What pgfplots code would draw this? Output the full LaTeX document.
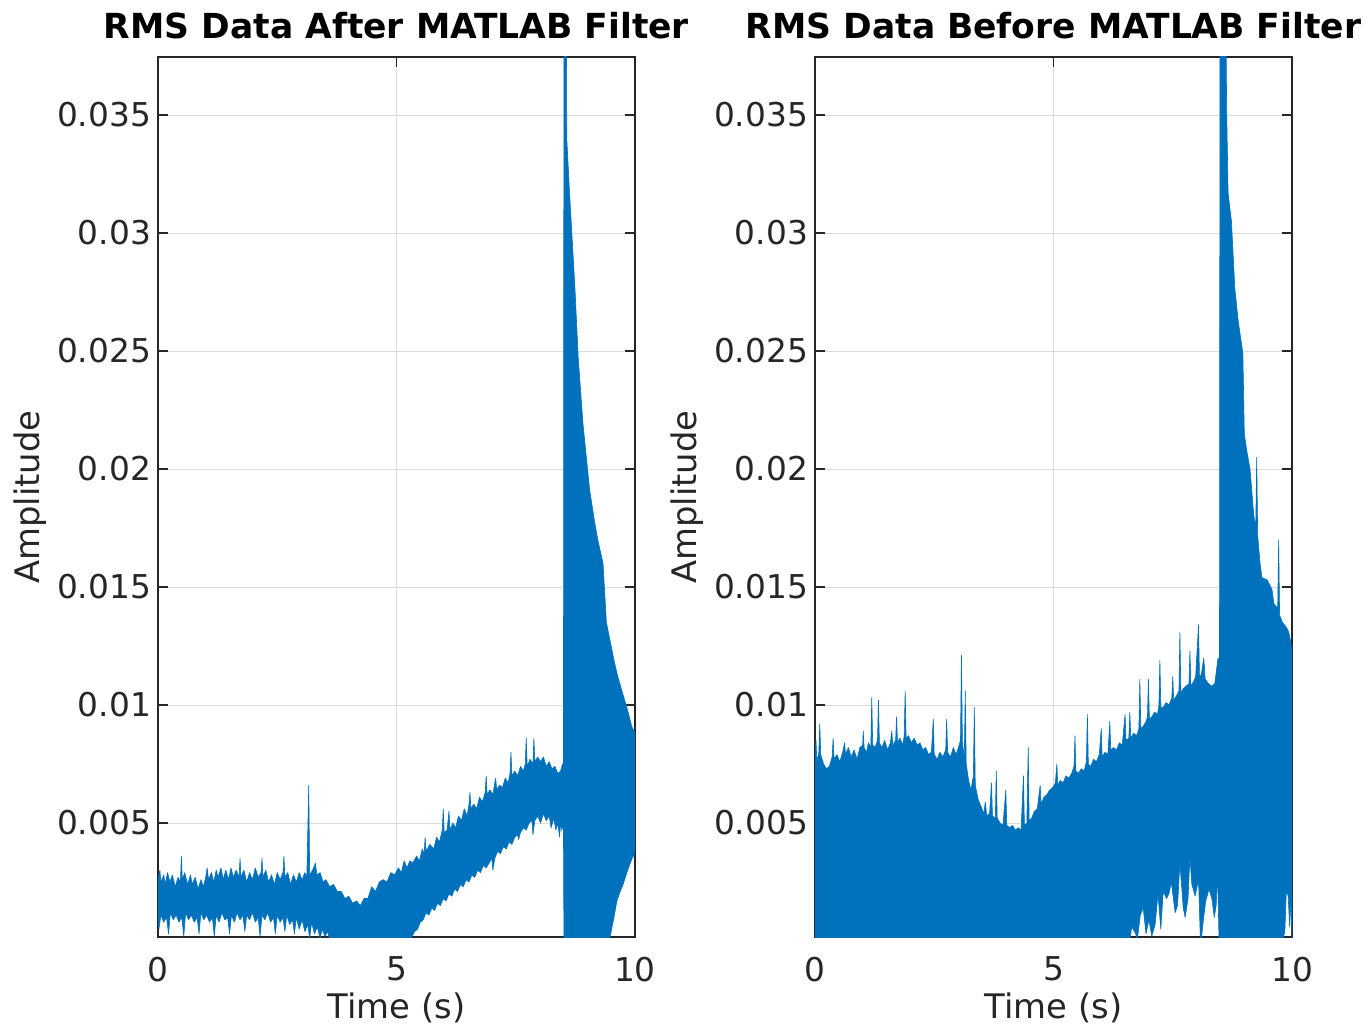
\documentclass[border=0pt]{standalone}
\usepackage{fontspec}
\setmainfont{DejaVu Sans}
\usepackage{pgfplots}
\pgfplotsset{compat=1.18}
\definecolor{mblue}{RGB}{0,114,189}
\definecolor{mgray}{RGB}{38,38,38}
\pgfplotsset{
  mstyle/.style={
    scale only axis, width=238.5pt, height=440pt,
    xmin=0, xmax=10, ymin=0.00017, ymax=0.03746,
    xtick={0,5,10}, xticklabels={0,5,10},
    ytick={0.005,0.01,0.015,0.02,0.025,0.03,0.035},
    yticklabels={0.005,0.01,0.015,0.02,0.025,0.03,0.035},
    scaled y ticks=false,
    grid=major, major grid style={color=black!14, line width=0.5pt},
    axis line style={color=mgray, line width=0.55pt},
    tick style={color=mgray, line width=0.55pt}, major tick length=5pt,
    tick align=inside,
    ticklabel style={font=\fontsize{16.4}{19}\selectfont, color=mgray},
    xticklabel style={yshift=-6.5pt},
    label style={font=\fontsize{16.9}{20}\selectfont, color=mgray},
    xlabel={Time (s)}, ylabel={Amplitude},
    xlabel style={at={(axis description cs:0.5,-0.08)}, anchor=center},
    ylabel style={at={(axis description cs:-0.268,0.5)}, anchor=center},
    title style={font=\bfseries\fontsize{17.25}{20}\selectfont, color=black,
      at={(axis description cs:0.5,1.033)}, anchor=center, yshift=-5pt},
  },
  dat/.style={fill=mblue, draw=mblue, line width=0.3pt, line join=round},
}
\begin{document}
\begin{tikzpicture}
\path[use as bounding box] (-79pt,-46.5pt) rectangle (606pt,468.5pt);
\begin{axis}[mstyle, at={(0,0)}, anchor=south west, title={RMS Data After MATLAB Filter}]
\addplot[dat] coordinates {
(0.00,0.0026)(0.04,0.0030)(0.06,0.0025)(0.12,0.0028)(0.15,0.0024)(0.2,0.0029)(0.25,0.0025)(0.3,0.0028)(0.36,0.0023)(0.42,0.0027)(0.47,0.0025)(0.49,0.0036)(0.51,0.0026)(0.56,0.0029)(0.62,0.0024)(0.68,0.0028)(0.72,0.0024)(0.78,0.0027)(0.84,0.0022)(0.9,0.0026)(0.95,0.0023)(1.0,0.0027)(1.03,0.0031)(1.06,0.0026)(1.12,0.0029)(1.17,0.0025)(1.22,0.0030)(1.26,0.0027)(1.32,0.0031)(1.37,0.0026)(1.42,0.0030)(1.48,0.0026)(1.53,0.0031)(1.58,0.0027)(1.64,0.0030)(1.70,0.0027)(1.72,0.0035)(1.74,0.0027)(1.8,0.0030)(1.86,0.0025)(1.92,0.0029)(1.98,0.0026)(2.04,0.0031)(2.1,0.0027)(2.16,0.0029)(2.18,0.0035)(2.2,0.0027)(2.26,0.0030)(2.32,0.0025)(2.38,0.0028)(2.44,0.0024)(2.5,0.0029)(2.56,0.0026)(2.62,0.0029)(2.64,0.0036)(2.66,0.0027)(2.72,0.0029)(2.78,0.0024)(2.84,0.0028)(2.9,0.0025)(2.96,0.0029)(3.02,0.0026)(3.08,0.0029)(3.12,0.0027)(3.16,0.0066)(3.18,0.0028)(3.24,0.0030)(3.3,0.0033)(3.33,0.0028)(3.4,0.0029)(3.46,0.0025)(3.52,0.0026)(3.6,0.0023)(3.68,0.0024)(3.76,0.0021)(3.84,0.0021)(3.92,0.0018)(4.0,0.0019)(4.08,0.0016)(4.16,0.0017)(4.24,0.0015)(4.32,0.0018)(4.4,0.0018)(4.48,0.0023)(4.56,0.0021)(4.64,0.0025)(4.72,0.0026)(4.8,0.0025)(4.88,0.0029)(4.96,0.0028)(5.04,0.0031)(5.1,0.0029)(5.16,0.0034)(5.22,0.0031)(5.28,0.0034)(5.34,0.0033)(5.42,0.0036)(5.48,0.0034)(5.54,0.0039)(5.58,0.0037)(5.6,0.0044)(5.62,0.0038)(5.7,0.0041)(5.78,0.0039)(5.84,0.0044)(5.9,0.0042)(5.96,0.0047)(5.98,0.0056)(6.0,0.0046)(6.06,0.0047)(6.1,0.0055)(6.12,0.0047)(6.18,0.0050)(6.24,0.0048)(6.3,0.0053)(6.36,0.0051)(6.42,0.0056)(6.48,0.0053)(6.52,0.0058)(6.54,0.0063)(6.56,0.0056)(6.62,0.0058)(6.68,0.0056)(6.74,0.0061)(6.8,0.0059)(6.86,0.0063)(6.88,0.0070)(6.9,0.0062)(6.96,0.0064)(7.02,0.0062)(7.06,0.0067)(7.08,0.0069)(7.1,0.0064)(7.16,0.0066)(7.22,0.0065)(7.28,0.0069)(7.34,0.0067)(7.38,0.0071)(7.4,0.0080)(7.42,0.0070)(7.48,0.0072)(7.54,0.0070)(7.6,0.0074)(7.66,0.0072)(7.7,0.0075)(7.72,0.0086)(7.74,0.0074)(7.8,0.0077)(7.86,0.0075)(7.88,0.0086)(7.9,0.0076)(7.96,0.0078)(8.02,0.0076)(8.08,0.0078)(8.14,0.0074)(8.2,0.0076)(8.26,0.0073)(8.32,0.0074)(8.38,0.0071)(8.44,0.0072)(8.48,0.0075)(8.50,0.0071)
(8.51,0.0400)(8.56,0.0400)(8.57,0.0340)(8.62,0.0320)(8.67,0.0302)(8.74,0.0277)(8.81,0.0247)(8.91,0.0219)(9.05,0.0191)(9.15,0.0178)(9.22,0.0170)(9.33,0.0160)(9.4,0.0135)(9.5,0.0125)(9.57,0.0118)(9.64,0.0112)(9.74,0.0105)(9.83,0.0099)(9.93,0.0091)(10.0,0.0088)
(10.0,0.0040)(9.98,0.0036)(9.96,0.0036)(9.9,0.0033)(9.83,0.0029)(9.75,0.0024)(9.69,0.0021)(9.62,0.0017)(9.55,0.0009)(9.48,0.0002)(9.45,0)(8.51,0)
(8.50,0.0049)(8.46,0.0047)(8.44,0.0051)(8.42,0.0044)(8.38,0.0050)(8.34,0.0047)(8.3,0.0052)(8.24,0.0048)(8.2,0.0053)(8.14,0.0051)(8.08,0.0054)(8.02,0.0050)(7.96,0.0053)(7.9,0.0051)(7.86,0.0045)(7.84,0.0051)(7.78,0.0050)(7.72,0.0047)(7.66,0.0048)(7.6,0.0046)(7.56,0.0043)(7.54,0.0045)(7.48,0.0044)(7.42,0.0041)(7.36,0.0042)(7.3,0.0039)(7.24,0.0040)(7.18,0.0037)(7.12,0.0038)(7.06,0.0035)(7.02,0.0030)(7.0,0.0035)(6.94,0.0033)(6.88,0.0031)(6.82,0.0032)(6.76,0.0029)(6.7,0.0030)(6.64,0.0027)(6.58,0.0028)(6.52,0.0025)(6.46,0.0026)(6.4,0.0023)(6.34,0.0024)(6.28,0.0021)(6.22,0.0022)(6.16,0.0019)(6.1,0.0020)(6.04,0.0017)(5.98,0.0018)(5.92,0.0015)(5.86,0.0016)(5.8,0.0013)(5.74,0.0014)(5.68,0.0011)(5.62,0.0012)(5.56,0.0009)(5.5,0.0008)(5.44,0.0005)(5.38,0.0004)(5.3,0.0001)(5.2,0)
(3.6,0.0000)(3.56,0.0004)(3.5,0.0002)(3.44,0.0005)(3.4,0.0001)(3.34,0.0006)(3.28,0.0003)(3.22,0.0008)(3.18,0.0001)(3.14,0.0007)(3.08,0.0004)(3.02,0.0009)(2.96,0.0005)(2.9,0.0010)(2.86,0.0003)(2.82,0.0009)(2.76,0.0007)(2.7,0.0011)(2.66,0.0004)(2.62,0.0010)(2.56,0.0008)(2.5,0.0011)(2.46,0.0003)(2.42,0.0010)(2.36,0.0008)(2.3,0.0012)(2.24,0.0009)(2.18,0.0011)(2.14,0.0002)(2.1,0.0010)(2.04,0.0008)(1.98,0.0012)(1.92,0.0009)(1.86,0.0011)(1.82,0.0004)(1.78,0.0011)(1.72,0.0009)(1.66,0.0012)(1.6,0.0008)(1.54,0.0011)(1.5,0.0003)(1.46,0.0010)(1.4,0.0009)(1.34,0.0012)(1.28,0.0008)(1.22,0.0011)(1.18,0.0002)(1.14,0.0010)(1.08,0.0008)(1.02,0.0011)(0.96,0.0009)(0.9,0.0012)(0.86,0.0003)(0.82,0.0010)(0.76,0.0008)(0.7,0.0011)(0.64,0.0009)(0.58,0.0012)(0.54,0.0002)(0.5,0.0010)(0.44,0.0008)(0.38,0.0011)(0.32,0.0009)(0.26,0.0012)(0.22,0.0003)(0.18,0.0010)(0.12,0.0008)(0.06,0.0011)(0.02,0.0005)(0.0,0.0009)
};
\end{axis}
\begin{axis}[mstyle, at={(328.5pt,0)}, anchor=south west, title={RMS Data Before MATLAB Filter}]
\addplot[dat] coordinates {
(0.0,0.0077)(0.02,0.0085)(0.04,0.0076)(0.08,0.0080)(0.1,0.0092)(0.12,0.0079)(0.18,0.0075)(0.24,0.0073)(0.3,0.0074)(0.36,0.0078)(0.38,0.0086)(0.4,0.0077)(0.46,0.0079)(0.52,0.0076)(0.58,0.0080)(0.62,0.0084)(0.64,0.0079)(0.7,0.0082)(0.76,0.0078)(0.82,0.0081)(0.88,0.0077)(0.94,0.0082)(1.0,0.0083)(1.01,0.0089)(1.03,0.0082)(1.08,0.0080)(1.12,0.0084)(1.17,0.0082)(1.19,0.0103)(1.21,0.0083)(1.26,0.0082)(1.31,0.0085)(1.33,0.0102)(1.35,0.0084)(1.4,0.0082)(1.46,0.0085)(1.52,0.0081)(1.58,0.0084)(1.61,0.0089)(1.63,0.0083)(1.69,0.0085)(1.71,0.0095)(1.73,0.0084)(1.78,0.0086)(1.84,0.0083)(1.87,0.0087)(1.89,0.0106)(1.91,0.0086)(1.96,0.0087)(2.02,0.0084)(2.08,0.0086)(2.14,0.0083)(2.2,0.0084)(2.26,0.0081)(2.32,0.0082)(2.38,0.0079)(2.44,0.0080)(2.48,0.0094)(2.5,0.0079)(2.56,0.0077)(2.62,0.0080)(2.68,0.0078)(2.74,0.0081)(2.76,0.0094)(2.78,0.0080)(2.84,0.0078)(2.9,0.0082)(2.96,0.0079)(3.02,0.0083)(3.05,0.0085)(3.07,0.0121)(3.09,0.0084)(3.13,0.0078)(3.15,0.0106)(3.17,0.0075)(3.22,0.0068)(3.27,0.0064)(3.32,0.0070)(3.34,0.0099)(3.36,0.0066)(3.42,0.0060)(3.48,0.0057)(3.54,0.0054)(3.57,0.0059)(3.6,0.0053)(3.66,0.0054)(3.7,0.0067)(3.72,0.0053)(3.78,0.0052)(3.8,0.0072)(3.82,0.0052)(3.88,0.0050)(3.94,0.0049)(4.0,0.0064)(4.02,0.0049)(4.08,0.0048)(4.14,0.0049)(4.2,0.0047)(4.26,0.0048)(4.32,0.0047)(4.37,0.0070)(4.39,0.0049)(4.44,0.0050)(4.47,0.0082)(4.49,0.0051)(4.54,0.0052)(4.6,0.0055)(4.66,0.0056)(4.72,0.0066)(4.74,0.0058)(4.8,0.0061)(4.86,0.0062)(4.92,0.0064)(4.98,0.0065)(5.04,0.0067)(5.07,0.0075)(5.09,0.0066)(5.14,0.0068)(5.2,0.0067)(5.26,0.0070)(5.32,0.0069)(5.38,0.0071)(5.43,0.0074)(5.45,0.0087)(5.47,0.0072)(5.52,0.0071)(5.58,0.0073)(5.64,0.0072)(5.69,0.0076)(5.71,0.0096)(5.73,0.0075)(5.78,0.0074)(5.84,0.0077)(5.9,0.0076)(5.96,0.0079)(6.0,0.0090)(6.02,0.0078)(6.08,0.0080)(6.14,0.0079)(6.18,0.0093)(6.2,0.0081)(6.26,0.0082)(6.32,0.0081)(6.38,0.0084)(6.44,0.0083)(6.5,0.0096)(6.52,0.0085)(6.58,0.0086)(6.6,0.0097)(6.62,0.0086)(6.68,0.0088)(6.74,0.0087)(6.79,0.0090)(6.81,0.0111)(6.83,0.0090)(6.88,0.0091)(6.94,0.0093)(6.97,0.0095)(6.99,0.0111)(7.01,0.0094)(7.06,0.0095)(7.12,0.0097)(7.18,0.0096)(7.21,0.0100)(7.23,0.0119)(7.25,0.0099)(7.3,0.0099)(7.36,0.0101)(7.42,0.0100)(7.48,0.0103)(7.5,0.0112)(7.52,0.0102)(7.58,0.0104)(7.63,0.0106)(7.65,0.0131)(7.67,0.0105)(7.72,0.0107)(7.78,0.0108)(7.84,0.0109)(7.86,0.0123)(7.88,0.0108)(7.94,0.0110)(7.98,0.0112)(8.04,0.0134)(8.06,0.0112)(8.1,0.0113)(8.15,0.0120)(8.18,0.0111)(8.25,0.0109)(8.32,0.0108)(8.38,0.0109)(8.45,0.0120)(8.48,0.0118)
(8.49,0.0400)(8.61,0.0400)(8.63,0.0352)(8.66,0.0317)(8.73,0.0305)(8.8,0.0277)(8.87,0.0263)(8.97,0.0249)(9.0,0.0215)(9.05,0.0208)(9.12,0.0200)(9.16,0.0190)(9.2,0.0180)(9.24,0.0176)(9.26,0.0205)(9.28,0.0172)(9.33,0.0160)(9.37,0.0154)(9.48,0.0153)(9.58,0.0149)(9.62,0.0143)(9.7,0.0141)(9.72,0.0170)(9.74,0.0138)(9.8,0.0135)(9.88,0.0133)(9.93,0.0131)(9.97,0.0127)(10.0,0.0123)
(10.0,0.0)(9.98,0.0017)(9.95,0.0006)(9.92,0.0019)(9.88,0.0021)(9.85,0.0004)(9.8,0.0)(8.49,0.0)(8.47,0.0)(8.44,0.0029)(8.41,0.0015)(8.37,0.0010)(8.32,0.0018)(8.26,0.0022)(8.22,0.0019)(8.19,0.0017)(8.12,0.0005)(8.1,0.0)(8.08,0.0)(8.04,0.0026)(8.0,0.0022)(7.97,0.0019)(7.9,0.0024)(7.86,0.0036)(7.82,0.0018)(7.76,0.0010)(7.72,0.0014)(7.65,0.0033)(7.6,0.0015)(7.55,0.0012)(7.47,0.0025)(7.42,0.0020)(7.37,0.0018)(7.3,0.0021)(7.25,0.0005)(7.19,0.0020)(7.13,0.0007)(7.06,0.0002)(7.0,0.0009)(6.94,0.0003)(6.88,0.0014)(6.82,0.0011)(6.76,0.0001)(6.7,0.0004)(6.64,0.0006)(6.6,0.0)(0.0,0.0)
};
\end{axis}
\end{tikzpicture}
\end{document}
